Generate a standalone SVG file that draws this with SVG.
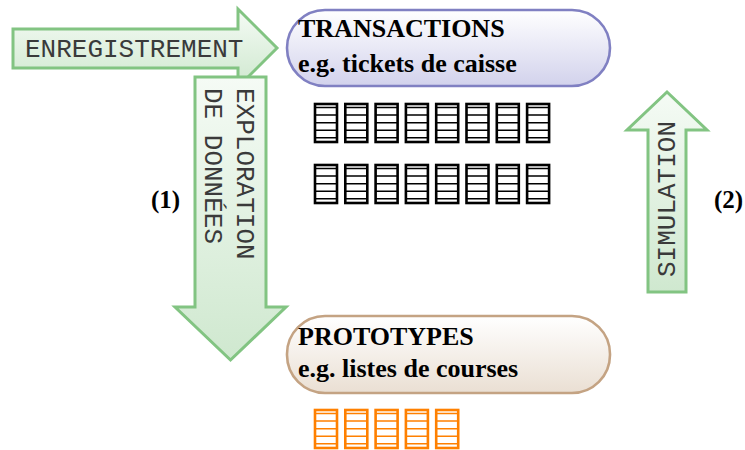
<svg xmlns="http://www.w3.org/2000/svg" xmlns:xlink="http://www.w3.org/1999/xlink" width="745" height="450" viewBox="0 0 745 450">
  <defs>
    <linearGradient id="gGreen" x1="0" y1="0" x2="0" y2="1">
      <stop offset="0" stop-color="#f5fbf5"/>
      <stop offset="1" stop-color="#cfe8cf"/>
    </linearGradient>
    <linearGradient id="gBlue" x1="0" y1="0" x2="0" y2="1">
      <stop offset="0" stop-color="#ffffff"/>
      <stop offset="1" stop-color="#d2d2ec"/>
    </linearGradient>
    <linearGradient id="gTan" x1="0" y1="0" x2="0" y2="1">
      <stop offset="0" stop-color="#ffffff"/>
      <stop offset="1" stop-color="#eadfd3"/>
    </linearGradient>
    <g id="tbl">
      <rect x="0" y="0" width="22" height="38" fill="#fff"/>
      <rect x="0" y="0" width="22" height="38" fill="none" stroke-width="2.6"/>
      <path d="M0 3.5H22M0 11H22M0 18.7H22M0 26.3H22M0 33.8H22" fill="none" stroke-width="1.4"/>
    </g>
  </defs>
  <style>
    .arrow { fill: url(#gGreen); stroke: #82c482; stroke-width: 3; stroke-linejoin: miter; }
    .mono { font-family: "Liberation Mono", "Courier New", monospace; font-size: 26px; fill: #3a3a3a; }
    .title { font-family: "Liberation Serif", "Times New Roman", serif; font-size: 26px; font-weight: bold; fill: #000; }
    .num { font-family: "Liberation Serif", "Times New Roman", serif; font-size: 25px; font-weight: bold; fill: #000; }
    .blk { stroke: #000; }
    .org { stroke: #ff8000; }
  </style>

  <g id="connectors">
    <g id="enregistrement">
      <polygon class="arrow" points="13,29 238,29 238,9 277,48 238,87 238,68 13,68"/>
      <text class="mono" x="25" y="57">ENREGISTREMENT</text>
    </g>
    <g id="exploration">
      <polygon class="arrow" points="195,77 266,77 266,307 286,307 230.5,360 175,307 195,307"/>
      <text class="mono" transform="translate(237,88) rotate(90)">EXPLORATION</text>
      <text class="mono" transform="translate(205,88) rotate(90)">DE DONNÉES</text>
    </g>
    <g id="simulation">
      <polygon class="arrow" points="648,292 648,130 627,130 667,92 707,130 686,130 686,292"/>
      <text class="mono" transform="translate(675,277) rotate(-90)">SIMULATION</text>
    </g>
    <text class="num" x="151" y="208">(1)</text>
    <text class="num" x="714" y="208">(2)</text>
  </g>

  <g id="transactions">
    <rect x="287" y="10" width="323" height="76" rx="38" ry="38" fill="url(#gBlue)" stroke="#8080c2" stroke-width="2.6"/>
    <text class="title" x="298" y="37">TRANSACTIONS</text>
    <text class="title" x="298" y="72">e.g. tickets de caisse</text>
  </g>

  <g id="transaction-tables" class="blk">
    <use xlink:href="#tbl" x="315" y="104"/>
    <use xlink:href="#tbl" x="345.3" y="104"/>
    <use xlink:href="#tbl" x="375.6" y="104"/>
    <use xlink:href="#tbl" x="405.9" y="104"/>
    <use xlink:href="#tbl" x="436.2" y="104"/>
    <use xlink:href="#tbl" x="466.5" y="104"/>
    <use xlink:href="#tbl" x="496.8" y="104"/>
    <use xlink:href="#tbl" x="527.1" y="104"/>
    <use xlink:href="#tbl" x="315" y="165"/>
    <use xlink:href="#tbl" x="345.3" y="165"/>
    <use xlink:href="#tbl" x="375.6" y="165"/>
    <use xlink:href="#tbl" x="405.9" y="165"/>
    <use xlink:href="#tbl" x="436.2" y="165"/>
    <use xlink:href="#tbl" x="466.5" y="165"/>
    <use xlink:href="#tbl" x="496.8" y="165"/>
    <use xlink:href="#tbl" x="527.1" y="165"/>
  </g>

  <g id="prototypes">
    <rect x="287" y="316" width="323" height="77" rx="38" ry="38" fill="url(#gTan)" stroke="#c4a383" stroke-width="2.6"/>
    <text class="title" x="298" y="345">PROTOTYPES</text>
    <text class="title" x="298" y="377">e.g. listes de courses</text>
  </g>

  <g id="prototype-tables" class="org">
    <use xlink:href="#tbl" x="315" y="410"/>
    <use xlink:href="#tbl" x="345.3" y="410"/>
    <use xlink:href="#tbl" x="375.6" y="410"/>
    <use xlink:href="#tbl" x="405.9" y="410"/>
    <use xlink:href="#tbl" x="436.2" y="410"/>
  </g>
</svg>
